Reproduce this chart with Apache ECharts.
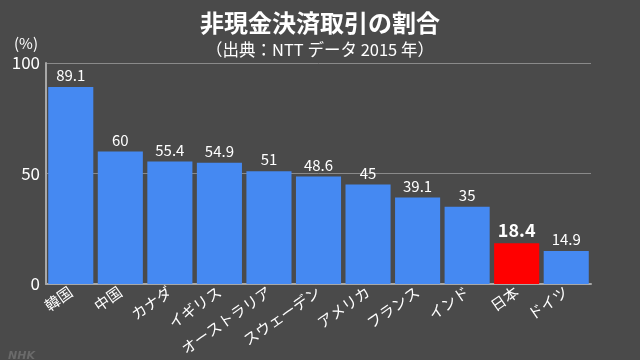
<!DOCTYPE html>
<html><head><meta charset="utf-8">
<script src="https://cdn.jsdelivr.net/npm/echarts@6/dist/echarts.min.js"></script>
<style>html,body{margin:0;padding:0;background:#4a4a4a;}#c{width:640px;height:360px;}</style>
</head><body><div id="c"></div>
<script>
const categories = ['韓国','中国','カナダ','イギリス','オーストラリア','スウェーデン','アメリカ','フランス','インド','日本','ドイツ'];
const values = [89.1, 60, 55.4, 54.9, 51, 48.6, 45, 39.1, 35, 18.4, 14.9];
const highlight = '日本';
const yTicks = [0, 50, 100];
const FONT = '"Noto Sans CJK JP", "Noto Sans", sans-serif';
const chart = echarts.init(document.getElementById('c'));
chart.setOption({
  backgroundColor: '#4a4a4a',
  animation: false,
  title: [
    {text: '非現金決済取引の割合', left: 'center', top: 6, textStyle: {color: '#fff', fontSize: 24, fontWeight: 'bold', fontFamily: FONT}},
    {text: '（出典：NTT データ 2015 年）', left: 'center', top: 36, textStyle: {color: '#fff', fontSize: 16.5, fontWeight: 'normal', fontFamily: FONT}},
    {text: 'NHK', left: 3, top: 346, textStyle: {color: '#6a6a6a', fontSize: 11, fontWeight: 'bold', fontStyle: 'italic', fontFamily: 'DejaVu Sans'}}
  ],
  grid: {left: 46, right: 49, top: 63, bottom: 76, outerBoundsMode: 'none', containLabel: false},
  xAxis: {
    type: 'category', data: categories,
    axisLine: {lineStyle: {color: '#a8a8a8', width: 2}},
    axisTick: {show: false},
    axisLabel: {color: '#fff', fontSize: 15, rotate: 35, margin: 6, fontFamily: FONT, interval: 0}
  },
  yAxis: {
    type: 'value', min: 0, max: 100, interval: 50,
    name: '(%)', nameLocation: 'end', nameGap: 12,
    nameTextStyle: {color: '#fff', fontSize: 15, align: 'right', padding: [0, 8, 0, 0], fontFamily: FONT},
    axisLine: {show: true, lineStyle: {color: '#a8a8a8', width: 2}},
    axisTick: {show: false},
    splitLine: {lineStyle: {color: '#8a8a8a', width: 1}},
    axisLabel: {color: '#fff', fontSize: 17, margin: 6, fontFamily: FONT,
      formatter: v => yTicks.includes(v) ? String(v) : ''}
  },
  series: [{
    type: 'bar', barCategoryGap: '9%',
    data: values.map((v, i) => {
      const hl = categories[i] === highlight;
      return {
        value: v,
        itemStyle: {color: hl ? '#ff0000' : '#4589f2'},
        label: hl ? {fontSize: 18, fontWeight: 'bold'} : {}
      };
    }),
    label: {show: true, position: 'top', color: '#fff', fontSize: 15, fontFamily: FONT, distance: 4}
  }]
});
</script></body></html>
